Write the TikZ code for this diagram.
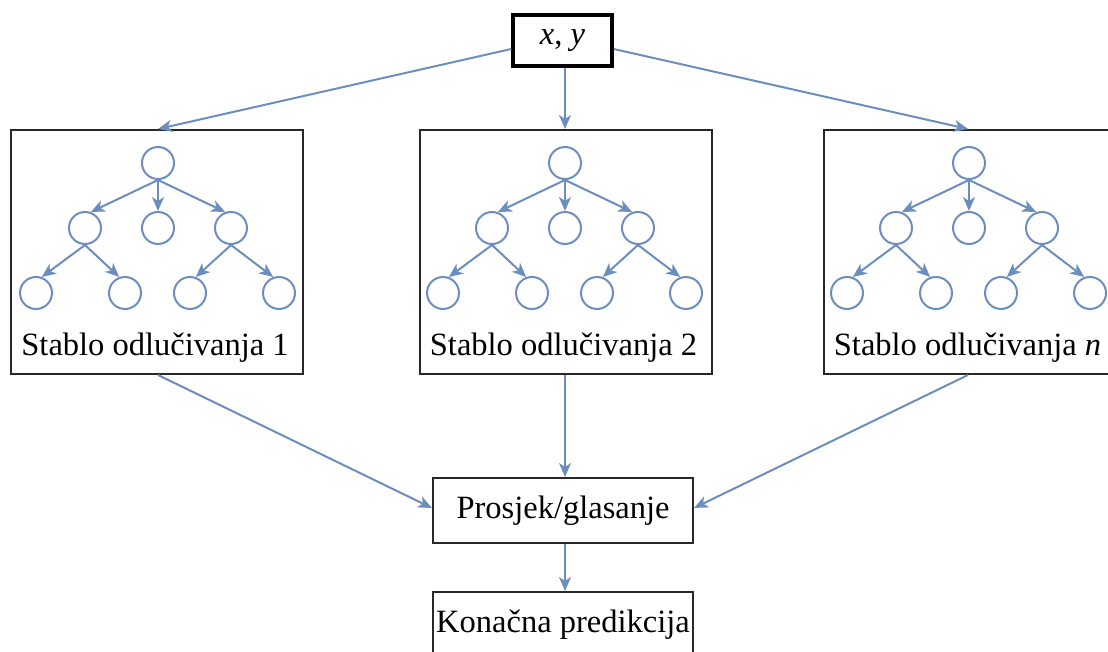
\documentclass[tikz,border=0pt]{standalone}
\usepackage{fontspec}
\setmainfont{Liberation Serif}
\usetikzlibrary{arrows.meta}
\definecolor{lnk}{RGB}{108,142,191}
\definecolor{bx}{RGB}{40,40,40}
\tikzset{
  every node/.style={font=\fontsize{32.5}{36}\selectfont, inner sep=0pt},
  conn/.style={draw=lnk, line width=2pt, -{Stealth[length=14pt,width=12pt,inset=4pt]}},
  tconn/.style={draw=lnk, line width=2pt, -{Stealth[length=14pt,width=12pt,inset=4pt]}},
  leaf/.style={circle, draw=lnk, line width=2pt, minimum size=32pt},
  treebox/.style={draw=bx, line width=2pt, rectangle, minimum width=292pt, minimum height=244pt},
  plainbox/.style={draw=bx, line width=2pt, rectangle},
  inbox/.style={draw=black, line width=3.5pt, rectangle, minimum width=99pt, minimum height=51pt},
}
\newcommand{\mytree}[2]{%
  \node[leaf] (#1r) at (#2,163) {};
  \node[leaf] (#1a) at (#2-73,228) {};
  \node[leaf] (#1b) at (#2,228) {};
  \node[leaf] (#1c) at (#2+73,228) {};
  \node[leaf] (#1d) at (#2-122,293) {};
  \node[leaf] (#1e) at (#2-33,293) {};
  \node[leaf] (#1f) at (#2+32,293) {};
  \node[leaf] (#1g) at (#2+121,293) {};
  \draw[tconn] (#1r.south) -- (#1a.70);
  \draw[tconn] (#1r.south) -- (#1b.north);
  \draw[tconn] (#1r.south) -- (#1c.110);
  \draw[tconn] (#1a.south) -- (#1d.70);
  \draw[tconn] (#1a.south) -- (#1e.110);
  \draw[tconn] (#1c.south) -- (#1f.70);
  \draw[tconn] (#1c.south) -- (#1g.110);
}
\begin{document}
\begin{tikzpicture}[x=1pt,y=-1pt]
\useasboundingbox (0,0) rectangle (1108,652);
\clip (0,0) rectangle (1108,652);
\node[inbox] (xy) at (562.5,40.5) {\textit{x}, \textit{y}};
\node[treebox] (t1) at (157,252) {};
\node[treebox] (t2) at (565.5,252) {};
\node[treebox] (t3) at (969.5,252) {};
\node (l1) at (155,348) {Stablo odlučivanja 1};
\node (l2) at (563.5,348) {Stablo odlučivanja 2};
\node (l3) at (967.5,348) {Stablo odlučivanja \textit{n}};
\mytree{p}{158}
\mytree{q}{565}
\mytree{s}{969}
\node[plainbox, minimum width=260pt, minimum height=65pt] (avg) at (563,510.5) {Prosjek/glasanje};
\node[plainbox, minimum width=260pt, minimum height=70pt] (fin) at (563,627) {};
\node (finl) at (563,625) {Konačna predikcija};
\draw[conn] (xy.west |- 0,49) -- (t1.north -| 158,0);
\draw[conn] (xy.south -| 565,0) -- (t2.north -| 565,0);
\draw[conn] (xy.east |- 0,49) -- (t3.north -| 968,0);
\draw[conn] (t1.south -| 158,0) -- (avg.west |- 0,508);
\draw[conn] (t2.south -| 565,0) -- (avg.north -| 565,0);
\draw[conn] (t3.south -| 968,0) -- (avg.east |- 0,508);
\draw[conn] (avg.south -| 565,0) -- (fin.north -| 565,0);
\end{tikzpicture}
\end{document}
